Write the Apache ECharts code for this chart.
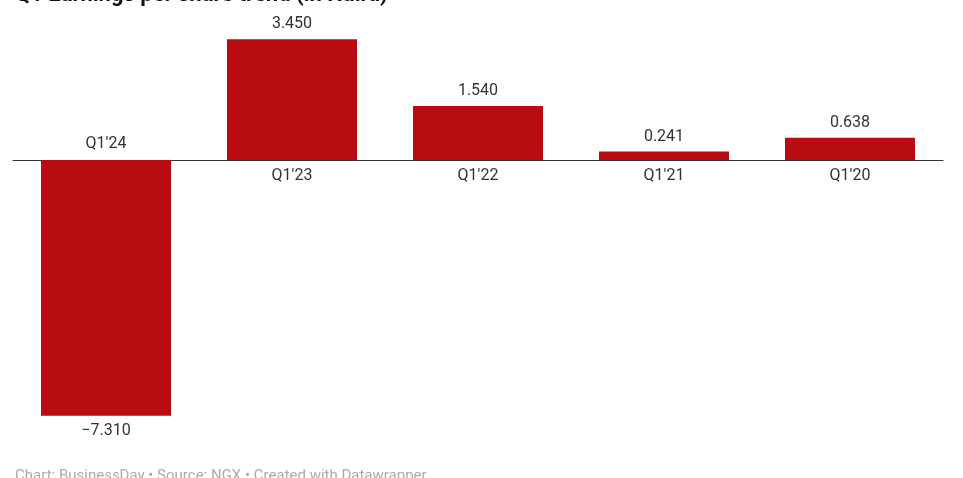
<!DOCTYPE html>
<html>
<head>
<meta charset="utf-8">
<script src="https://cdn.jsdelivr.net/npm/echarts@6/dist/echarts.min.js"></script>
<style>
  html, body { margin: 0; padding: 0; background: #fff; }
  #chart { width: 963px; height: 478px; }
</style>
</head>
<body>
<div id="chart"></div>
<script>
// 季度
const categories = ["Q1'24", "Q1'23", "Q1'22", "Q1'21", "Q1'20"];
// 每股收益
const eps = [-7.310, 3.450, 1.540, 0.241, 0.638];

const barColor = '#b80c10';
const font = 'Roboto, "Liberation Sans", sans-serif';

const myChart = echarts.init(document.getElementById('chart'));

const option = {
    backgroundColor: '#fff',
    animation: false,
    title: [
        {
            text: "Q1 Earnings per share trend (in Naira)",
            left: 10,
            top: -21,
            textStyle: { fontFamily: font, fontSize: 22, fontWeight: 'bold', color: '#111' }
        },
        {
            text: 'Chart: BusinessDay • Source: NGX • Created with Datawrapper',
            left: 10,
            top: 464,
            textStyle: { fontFamily: font, fontSize: 15, fontWeight: 'normal', color: '#aaa' }
        }
    ],
    grid: { left: 13, right: 20, top: 20, height: 420 },
    xAxis: {
        type: 'category',
        data: categories,
        axisLine: { onZero: true, lineStyle: { color: '#333', width: 1 } },
        axisTick: { show: false },
        axisLabel: { show: false }
    },
    yAxis: {
        type: 'value',
        min: -8,
        max: 4,
        show: false,
        splitLine: { show: false }
    },
    series: [
        {
            type: 'bar',
            barWidth: 130,
            data: eps.map(function (v) {
                return {
                    value: v,
                    label: { position: v < 0 ? 'bottom' : 'top' }
                };
            }),
            itemStyle: { color: barColor },
            label: {
                show: true,
                distance: 7,
                fontFamily: font,
                fontSize: 16,
                color: '#333',
                formatter: function (p) {
                    return p.value.toFixed(3).replace('-', '−');
                }
            }
        },
        {
            // 类目标签放在零线另一侧
            type: 'bar',
            barWidth: 130,
            barGap: '-100%',
            silent: true,
            itemStyle: { color: 'transparent' },
            data: eps.map(function (v) {
                return {
                    value: 0,
                    label: { position: v < 0 ? 'top' : 'bottom' }
                };
            }),
            label: {
                show: true,
                distance: 8,
                fontFamily: font,
                fontSize: 16,
                color: '#333',
                formatter: function (p) {
                    return categories[p.dataIndex];
                }
            }
        }
    ]
};

myChart.setOption(option, true);
</script>
</body>
</html>
